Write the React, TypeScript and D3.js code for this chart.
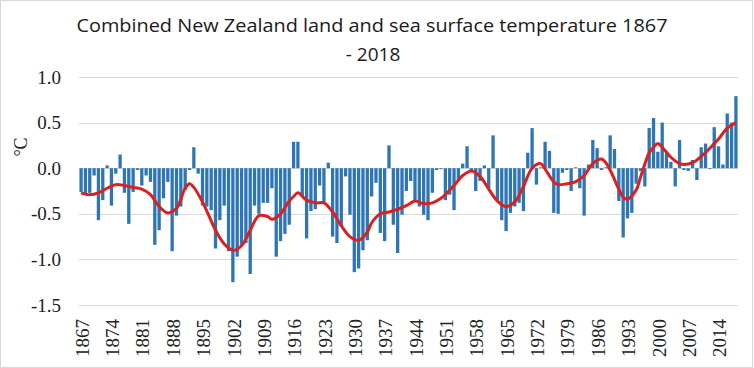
import * as React from "react";
import * as d3 from "d3";

// annual anomaly, °C, one per year from 1867 to 2018
const firstYear = 1867;
const lastYear = 2018;
const anomalies = [
  -0.26, -0.28, -0.27, -0.08, -0.57, -0.35, 0.03, -0.41, -0.06, 0.15,
  -0.27, -0.61, -0.26, -0.02, -0.19, -0.08, -0.15, -0.84, -0.68, -0.33,
  -0.15, -0.91, -0.52, -0.42, -0.24, -0.02, 0.23, -0.06, -0.41, -0.42,
  -0.46, -0.88, -0.57, -0.41, -0.91, -1.25, -0.97, -0.84, -0.82, -1.16,
  -0.41, -0.5, -0.38, -0.38, -0.22, -0.97, -0.8, -0.72, -0.62, 0.29,
  0.29, -0.31, -0.77, -0.47, -0.45, -0.19, -0.38, 0.06, -0.75, -0.82,
  -0.64, -0.09, -0.51, -1.14, -1.1, -0.9, -0.79, -0.31, -0.16, -0.71,
  -0.8, 0.25, -0.62, -0.93, -0.51, -0.25, -0.14, -0.35, -0.42, -0.51,
  -0.57, -0.27, -0.02, -0.01, -0.35, -0.29, -0.46, -0.13, 0.05, 0.24,
  -0.03, -0.25, -0.14, 0.03, -0.22, 0.36, -0.36, -0.57, -0.69, -0.49,
  -0.42, -0.38, -0.47, 0.17, 0.44, -0.18, 0.01, 0.29, 0.19, -0.49,
  -0.5, -0.05, -0.02, -0.25, 0.01, -0.22, -0.52, 0.04, 0.31, 0.22,
  -0.02, 0.01, 0.36, 0.21, -0.36, -0.76, -0.55, -0.49, -0.17, -0.03,
  -0.2, 0.44, 0.55, 0.18, 0.5, 0.18, 0.07, -0.2, 0.31, -0.02,
  -0.03, 0.09, -0.13, 0.23, 0.27, -0.01, 0.45, 0.24, 0.04, 0.6,
  0.5, 0.79,
];

// smoothed trend
const trendYears = [
  1867, 1869, 1871, 1873, 1875, 1877, 1879, 1881, 1883, 1885, 1887, 1889,
  1891, 1892, 1893, 1895, 1896, 1898, 1900, 1902, 1904, 1906, 1908, 1910,
  1911, 1913, 1915, 1916, 1917, 1919, 1921, 1923, 1925, 1927, 1929, 1931,
  1933, 1934, 1936, 1938, 1940, 1942, 1944, 1946, 1948, 1950, 1951, 1953,
  1955, 1957, 1959, 1961, 1963, 1965, 1967, 1969, 1971, 1973, 1974, 1976,
  1977, 1979, 1981, 1983, 1985, 1987, 1988, 1989, 1991, 1992, 1993, 1995,
  1996, 1998, 1999, 2000, 2001, 2003, 2005, 2006, 2008, 2010, 2012, 2014,
  2016, 2018,
];
const trendValues = [
  -0.27, -0.29, -0.27, -0.22, -0.18, -0.19, -0.21, -0.23, -0.29, -0.42, -0.49, -0.44,
  -0.22, -0.17, -0.21, -0.37, -0.47, -0.68, -0.83, -0.9, -0.85, -0.68, -0.52, -0.53,
  -0.56, -0.5, -0.36, -0.31, -0.27, -0.35, -0.38, -0.38, -0.48, -0.63, -0.75, -0.79,
  -0.7, -0.6, -0.5, -0.48, -0.45, -0.41, -0.36, -0.39, -0.38, -0.33, -0.29, -0.19,
  -0.08, -0.03, -0.09, -0.23, -0.36, -0.42, -0.37, -0.2, 0.0, 0.05, -0.01, -0.15,
  -0.18, -0.17, -0.15, -0.08, 0.05, 0.1, 0.06, -0.02, -0.23, -0.32, -0.34, -0.24,
  -0.1, 0.17, 0.23, 0.27, 0.23, 0.12, 0.05, 0.04, 0.06, 0.13, 0.22, 0.32,
  0.44, 0.5,
];

const yTicks = [1.0, 0.5, 0.0, -0.5, -1.0, -1.5];
const xTickYears = [
  1867, 1874, 1881, 1888, 1895, 1902, 1909, 1916, 1923, 1930, 1937, 1944,
  1951, 1958, 1965, 1972, 1979, 1986, 1993, 2000, 2007, 2014,
];

function drawChart(svgRef: React.RefObject<SVGSVGElement>) {
  const width = 754;
  const height = 368;
  const left = 79, right = 738, top = 77, bottom = 305;
  const serif = "'Liberation Serif', 'Times New Roman', serif";

  const years = d3.range(firstYear, lastYear + 1);

  const x = d3.scaleBand<number>()
    .domain(years)
    .range([left, right])
    .paddingInner(0.24)
    .paddingOuter(0.1);
  const y = d3.scaleLinear().domain([-1.5, 1.0]).range([bottom, top]);
  const cx = (yr: number) => (x(yr) as number) + x.bandwidth() / 2;

  const svg = d3.select(svgRef.current);
  svg.selectAll("*").remove();
  svg.attr("width", width).attr("height", height);

  svg.append("rect")
    .attr("x", 0.5).attr("y", 0.5)
    .attr("width", width - 2).attr("height", height - 1)
    .attr("fill", "#ffffff")
    .attr("stroke", "#d9d9d9");

  // title
  svg.append("text")
    .attr("x", 372).attr("y", 32)
    .attr("text-anchor", "middle")
    .attr("textLength", 591)
    .attr("lengthAdjust", "spacingAndGlyphs")
    .style("font-family", "'Liberation Sans Narrow', 'Open Sans', sans-serif")
    .style("font-size", "19px")
    .attr("fill", "#1a1a1a")
    .text("Combined New Zealand land and sea surface temperature 1867");
  svg.append("text")
    .attr("x", 373).attr("y", 61)
    .attr("text-anchor", "middle")
    .style("font-family", "'Liberation Sans Narrow', 'Open Sans', sans-serif")
    .style("font-size", "19px")
    .attr("fill", "#1a1a1a")
    .text("- 2018");

  // gridlines
  svg.append("g")
    .selectAll("line")
    .data(yTicks)
    .enter()
    .append("line")
    .attr("x1", left).attr("x2", right)
    .attr("y1", (d) => Math.round(y(d)) + 0.5)
    .attr("y2", (d) => Math.round(y(d)) + 0.5)
    .attr("stroke", "#d9d9d9")
    .attr("stroke-width", 1);

  // y tick labels
  svg.append("g")
    .selectAll("text")
    .data(yTicks)
    .enter()
    .append("text")
    .attr("x", 61)
    .attr("y", (d) => y(d))
    .attr("dy", "0.35em")
    .attr("text-anchor", "end")
    .style("font-family", serif)
    .style("font-size", "19px")
    .attr("fill", "#222")
    .text((d) => d.toFixed(1));

  svg.append("text")
    .attr("transform", "translate(21,147) rotate(-90)")
    .attr("text-anchor", "middle")
    .attr("dy", "0.35em")
    .style("font-family", serif)
    .style("font-size", "18px")
    .attr("fill", "#222")
    .text("°C");

  // bars
  svg.append("g")
    .selectAll("rect")
    .data(anomalies)
    .enter()
    .append("rect")
    .attr("x", (_, i) => x(years[i]) as number)
    .attr("width", x.bandwidth())
    .attr("y", (d) => y(Math.max(0, d)))
    .attr("height", (d) => Math.abs(y(d) - y(0)))
    .attr("fill", "#2e75b6");

  // trend line
  const line = d3.line<number>()
    .x((_, i) => cx(trendYears[i]))
    .y((d) => y(d))
    .curve(d3.curveCatmullRom.alpha(0.5));

  svg.append("path")
    .datum(trendValues)
    .attr("d", line)
    .attr("fill", "none")
    .attr("stroke", "#dc1f1f")
    .attr("stroke-width", 3)
    .attr("stroke-linejoin", "round");

  // x tick labels
  svg.append("g")
    .selectAll("text")
    .data(xTickYears)
    .enter()
    .append("text")
    .attr("transform", (d) => `translate(${cx(d) + 1},319) rotate(-90)`)
    .attr("dy", "0.35em")
    .attr("text-anchor", "end")
    .style("font-family", serif)
    .style("font-size", "19px")
    .attr("fill", "#222")
    .text((d) => String(d));
}

const App: React.FunctionComponent = () => {
  const svg = React.useRef<SVGSVGElement>(null);
  React.useEffect(() => {
    drawChart(svg);
  }, [svg]);

  return (
    <div style={{ position: "absolute", left: 0, top: 0 }}>
      <svg ref={svg} style={{ display: "block" }} />
    </div>
  );
};

export default App;
